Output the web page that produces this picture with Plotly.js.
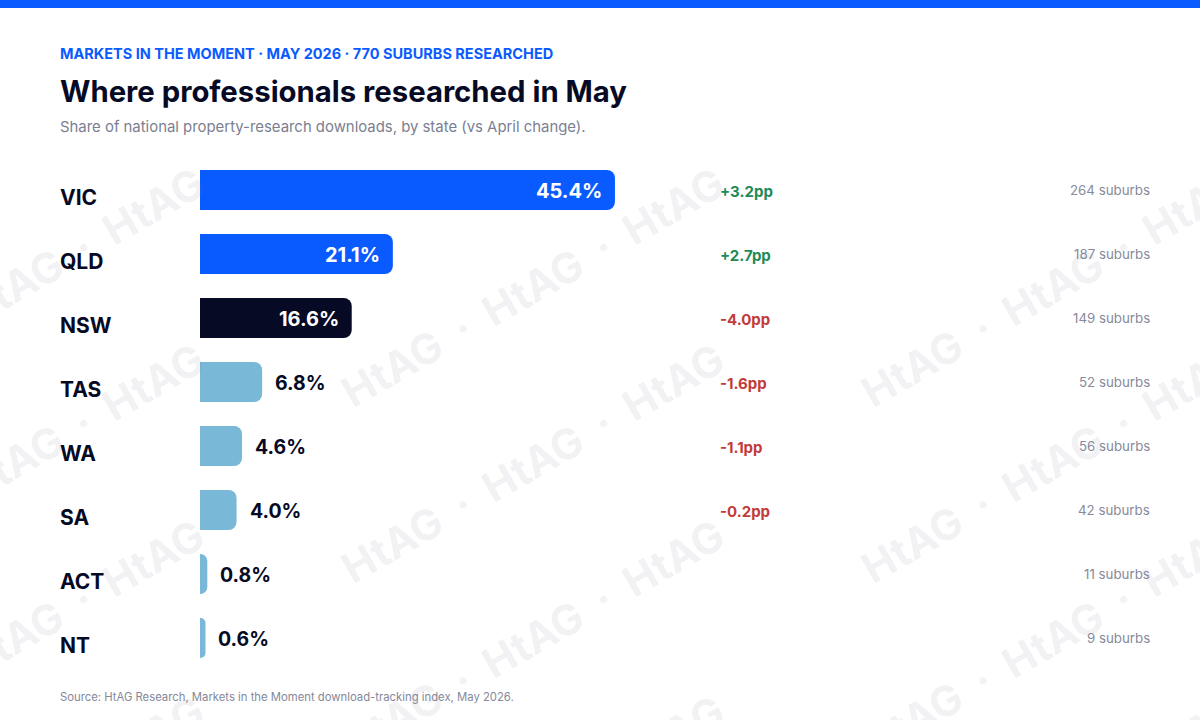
<!DOCTYPE html>
<html><head><meta charset="utf-8">
<script src="https://cdn.plot.ly/plotly-3.0.1.min.js"></script>
<style>html,body{margin:0;padding:0;background:#fff;} #chart{width:1200px;height:720px;}</style>
</head><body><div id="chart"></div>
<script>
// ---- data ----
const states = ['VIC','QLD','NSW','TAS','WA','SA','ACT','NT'];
const share = [45.4, 21.1, 16.6, 6.8, 4.6, 4.0, 0.8, 0.6];
const changeLabels = ['+3.2pp','+2.7pp','-4.0pp','-1.6pp','-1.1pp','-0.2pp','',''];
const suburbs = [264, 187, 149, 52, 56, 42, 11, 9];
const barColors = ['#0A5BFF','#0A5BFF','#060A24','#79B8D6','#79B8D6','#79B8D6','#79B8D6','#79B8D6'];
const kicker = 'MARKETS IN THE MOMENT · MAY 2026 · 770 SUBURBS RESEARCHED';
const title = 'Where professionals researched in May';
const subtitle = 'Share of national property-research downloads, by state (vs April change).';
const source = 'Source: HtAG Research, Markets in the Moment download-tracking index, May 2026.';

// ---- layout helpers ----
const W = 1200, H = 720, L = 200, R = 50, T = 158, B = 50;
const pw = W - L - R, ph = H - T - B;
const px = x => (x - L) / pw;
const py = y => (H - B - y) / ph;
const xMax = pw / 9.14;
const FONT = 'Inter, "Noto Sans", sans-serif';
const NAVY = '#060A24';

const ann = [];
// watermark
const wmText = 'HtAG\u00a0\u00a0·\u00a0\u00a0HtAG\u00a0\u00a0·\u00a0\u00a0HtAG';
[287, 463, 639, 815].forEach(cy => {
  [12, 532, 1052].forEach(cx => {
    ann.push({xref:'paper', yref:'paper', x:px(cx), y:py(cy), text:wmText, showarrow:false,
      textangle:-30, xanchor:'center', yanchor:'middle',
      font:{family:FONT, size:42, weight:700, color:'rgba(120,126,145,0.11)'}});
  });
});

states.forEach((s, i) => {
  ann.push({xref:'paper', yref:'y', x:px(60), y:s, text:s, showarrow:false, xanchor:'left', yanchor:'middle',
    xshift:-2, yshift:-7, font:{family:FONT, size:21, weight:700, color:NAVY}});
  const inside = share[i] > 10;
  ann.push({xref:'x', yref:'y', x:share[i], y:s, text:share[i].toFixed(1) + '%', showarrow:false,
    xanchor: inside ? 'right' : 'left', xshift: inside ? -11 : 11, yanchor:'middle', yshift:-1,
    font:{family:FONT, size:inside ? 20 : 19.5, weight:700, color: inside ? '#FFFFFF' : NAVY}});
  if (changeLabels[i]) {
    ann.push({xref:'paper', yref:'y', x:px(720), y:s, text:changeLabels[i], showarrow:false,
      xanchor:'left', yanchor:'middle', xshift:-2, yshift:-1,
      font:{family:FONT, size:15, weight:700, color: changeLabels[i][0] === '+' ? '#1E8A55' : '#C23B3B'}});
  }
  ann.push({xref:'paper', yref:'y', x:1, y:s, text:suburbs[i] + ' suburbs', showarrow:false,
    xanchor:'right', yanchor:'middle', xshift:2, yshift:0,
    font:{family:FONT, size:13.3, weight:400, color:'#878A9A'}});
});

ann.push({xref:'paper', yref:'paper', x:px(60), y:py(53), text:kicker, showarrow:false, xanchor:'left', yanchor:'middle',
  xshift:-2, font:{family:FONT, size:14.5, weight:700, color:'#0A5BFF'}});
ann.push({xref:'paper', yref:'paper', x:px(60), y:py(91), text:title, showarrow:false, xanchor:'left', yanchor:'middle',
  xshift:-2, font:{family:FONT, size:29.3, weight:700, color:NAVY}});
ann.push({xref:'paper', yref:'paper', x:px(60), y:py(127), text:subtitle, showarrow:false, xanchor:'left', yanchor:'middle',
  xshift:-2, font:{family:FONT, size:14.9, weight:400, color:'#7B8091'}});
ann.push({xref:'paper', yref:'paper', x:px(60), y:py(697), text:source, showarrow:false, xanchor:'left', yanchor:'middle',
  xshift:-2, font:{family:FONT, size:11.3, weight:400, color:'#858899'}});

const trace = {
  type:'bar', orientation:'h', x:share, y:states,
  marker:{color:barColors, cornerradius:8, line:{width:0}},
  hoverinfo:'skip'
};

const layout = {
  width:W, height:H,
  margin:{l:L, r:R, t:T, b:B, pad:0},
  paper_bgcolor:'#FFFFFF', plot_bgcolor:'rgba(0,0,0,0)',
  bargap:0.375,
  showlegend:false,
  xaxis:{range:[0, xMax], visible:false, fixedrange:true},
  yaxis:{type:'category', autorange:'reversed', visible:false, fixedrange:true},
  annotations:ann,
  shapes:[{type:'rect', xref:'paper', yref:'paper', x0:px(0), x1:px(1200), y0:py(8), y1:py(0),
    fillcolor:'#0A5BFF', line:{width:0}, layer:'above'}],
  hovermode:false
};

Plotly.newPlot('chart', [trace], layout, {displayModeBar:false, staticPlot:true});
</script>
</body></html>
